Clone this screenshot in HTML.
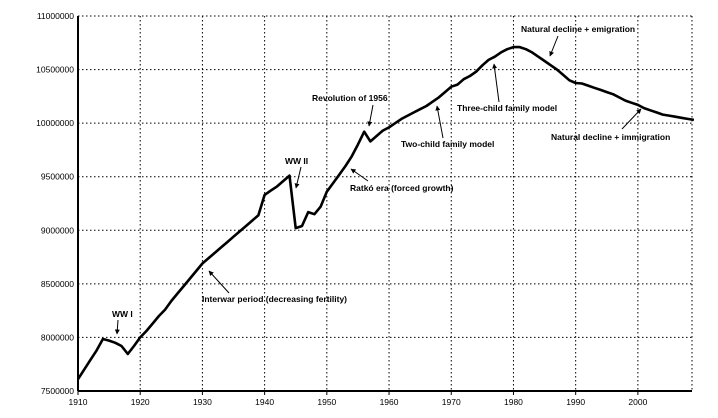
<!DOCTYPE html>
<html><head><meta charset="utf-8"><style>
html,body{margin:0;padding:0;background:#fff}
svg{display:block;font-family:"Liberation Sans",Arial,sans-serif}
.tick{font-size:8.5px;fill:#000}
.ann{font-size:8.5px;font-weight:bold;fill:#000}
</style></head><body>
<svg id="chart" width="718" height="418" viewBox="0 0 718 418">
<g id="grid"></g>
<g id="axes"></g>
<path id="line" fill="none" stroke="#000" stroke-width="2.6" stroke-linejoin="round"></path>
<g>
<defs><marker id="ah" viewBox="0 0 10 10" refX="9" refY="5" markerWidth="5" markerHeight="5" orient="auto"><path d="M0,0L10,5L0,10z" fill="#000"/></marker></defs>
<text class="ann" x="112" y="317">WW I</text>
<line x1="118" y1="320" x2="117" y2="334" stroke="#000" stroke-width="1" marker-end="url(#ah)"/>
<text class="ann" x="202" y="302">Interwar period (decreasing fertility)</text>
<line x1="229" y1="293" x2="209" y2="271" stroke="#000" stroke-width="1" marker-end="url(#ah)"/>
<text class="ann" x="285" y="164">WW II</text>
<line x1="301" y1="167" x2="296" y2="188" stroke="#000" stroke-width="1" marker-end="url(#ah)"/>
<text class="ann" x="350" y="191">Ratkó era (forced growth)</text>
<line x1="368" y1="181" x2="351" y2="169" stroke="#000" stroke-width="1" marker-end="url(#ah)"/>
<text class="ann" x="312" y="101">Revolution of 1956</text>
<line x1="373" y1="105" x2="369" y2="126" stroke="#000" stroke-width="1" marker-end="url(#ah)"/>
<text class="ann" x="401" y="147">Two-child family model</text>
<line x1="443" y1="138" x2="437" y2="106" stroke="#000" stroke-width="1" marker-end="url(#ah)"/>
<text class="ann" x="457" y="111">Three-child family model</text>
<line x1="499" y1="102" x2="494" y2="64" stroke="#000" stroke-width="1" marker-end="url(#ah)"/>
<text class="ann" x="521" y="32">Natural decline + emigration</text>
<line x1="558" y1="36" x2="550" y2="56" stroke="#000" stroke-width="1" marker-end="url(#ah)"/>
<text class="ann" x="551" y="140">Natural decline + immigration</text>
<line x1="622" y1="129" x2="641" y2="109" stroke="#000" stroke-width="1" marker-end="url(#ah)"/>
</g>
</svg>
<script>
const years = [];
for (let y = 1910; y <= 2009; y++) years.push(y);
const population = [
7.61,7.70,7.79,7.88,7.985,7.97,7.95,7.92,7.845,7.92,
8.00,8.06,8.13,8.20,8.26,8.34,8.41,8.48,8.55,8.62,
8.69,8.74,8.79,8.84,8.89,8.94,8.99,9.04,9.09,9.14,
9.33,9.37,9.41,9.46,9.51,9.02,9.04,9.17,9.15,9.22,
9.36,9.44,9.52,9.60,9.69,9.80,9.92,9.83,9.88,9.93,
9.96,10.00,10.04,10.07,10.10,10.13,10.16,10.20,10.24,10.29,
10.34,10.36,10.41,10.44,10.48,10.54,10.59,10.62,10.66,10.69,
10.71,10.71,10.69,10.66,10.62,10.58,10.54,10.50,10.45,10.40,
10.375,10.37,10.35,10.33,10.31,10.29,10.27,10.24,10.21,10.19,
10.17,10.14,10.12,10.10,10.08,10.07,10.06,10.05,10.04,10.03
].map(v => v * 1e6);
const yTicks = [7500000,8000000,8500000,9000000,9500000,10000000,10500000,11000000];
const xTicks = [1910,1920,1930,1940,1950,1960,1970,1980,1990,2000];

const X0 = 78, X1 = 692, Y0 = 391, Y1 = 16;
const xMin = 1910, xMax = 2008.7, yMin = 7500000, yMax = 11000000;
const sx = v => X0 + (v - xMin) / (xMax - xMin) * (X1 - X0);
const sy = v => Y0 - (v - yMin) / (yMax - yMin) * (Y0 - Y1);
const NS = 'http://www.w3.org/2000/svg';
const grid = document.getElementById('grid');
const axes = document.getElementById('axes');

yTicks.forEach(t => {
  const y = sy(t);
  if (t > yMin) {
    const l = document.createElementNS(NS, 'line');
    
    
    l.setAttribute('x1', X0); l.setAttribute('x2', X1);
    l.setAttribute('y1', y); l.setAttribute('y2', y);
    l.setAttribute('stroke', '#000'); l.setAttribute('stroke-width', '1');
    l.setAttribute('stroke-dasharray', '1.5,2.5');
    grid.appendChild(l);
  }
  const tx = document.createElementNS(NS, 'text');
  
  
  tx.setAttribute('class', 'tick');
  tx.setAttribute('x', X0 - 4); tx.setAttribute('y', y + 3);
  tx.setAttribute('text-anchor', 'end');
  tx.textContent = String(t);
  axes.appendChild(tx);
});
xTicks.forEach(t => {
  const x = sx(t);
  if (t > xMin) {
    const l = document.createElementNS(NS, 'line');
    
    
    l.setAttribute('x1', x); l.setAttribute('x2', x);
    l.setAttribute('y1', Y1); l.setAttribute('y2', Y0);
    l.setAttribute('stroke', '#000'); l.setAttribute('stroke-width', '1');
    l.setAttribute('stroke-dasharray', '1.5,2.5');
    grid.appendChild(l);
  }
  const tk = document.createElementNS(NS, 'line');
  
  
  tk.setAttribute('x1', x); tk.setAttribute('x2', x);
  tk.setAttribute('y1', Y0); tk.setAttribute('y2', Y0 + 4);
  tk.setAttribute('stroke', '#000');
  axes.appendChild(tk);
  const tx = document.createElementNS(NS, 'text');
  
  
  tx.setAttribute('class', 'tick');
  tx.setAttribute('x', x); tx.setAttribute('y', Y0 + 14);
  tx.setAttribute('text-anchor', 'middle');
  tx.textContent = String(t);
  axes.appendChild(tx);
});
// top and right dotted borders
[[X0, Y1, X1, Y1], [X1, Y1, X1, Y0]].forEach(c => {
  const l = document.createElementNS(NS, 'line');
  
  
  l.setAttribute('x1', c[0]); l.setAttribute('y1', c[1]);
  l.setAttribute('x2', c[2]); l.setAttribute('y2', c[3]);
  l.setAttribute('stroke', '#000'); l.setAttribute('stroke-dasharray', '1.5,2.5');
  grid.appendChild(l);
});
// solid axes
[[X0, Y1, X0, Y0], [X0, Y0, X1, Y0]].forEach(c => {
  const l = document.createElementNS(NS, 'line');
  
  
  l.setAttribute('x1', c[0]); l.setAttribute('y1', c[1]);
  l.setAttribute('x2', c[2]); l.setAttribute('y2', c[3]);
  l.setAttribute('stroke', '#000'); l.setAttribute('stroke-width', '2');
  axes.appendChild(l);
});
document.getElementById('line').setAttribute('d',
  years.map((yr, i) => (i ? 'L' : 'M') + sx(yr).toFixed(1) + ',' + sy(population[i]).toFixed(1)).join(''));
</script>
</body></html>
